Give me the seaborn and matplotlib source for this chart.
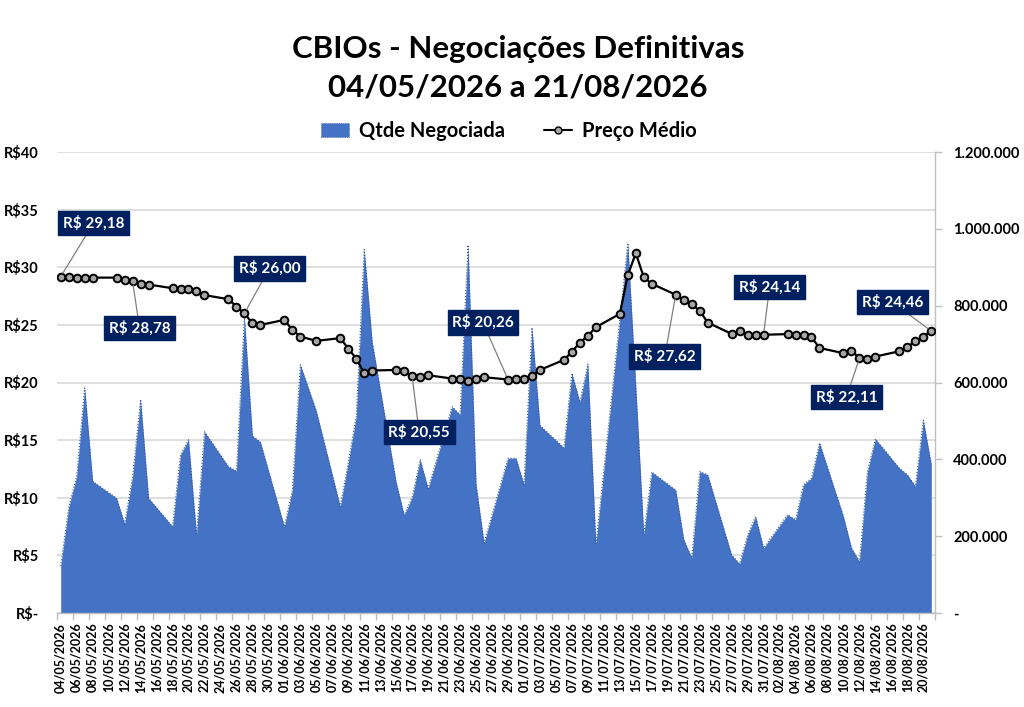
import pandas as pd
import matplotlib
matplotlib.use("Agg")
import matplotlib.pyplot as plt
from matplotlib.ticker import FuncFormatter, MultipleLocator, FixedLocator
from matplotlib.patches import Patch
from matplotlib.lines import Line2D
import seaborn as sns

# trading days (business days, Corpus Christi closed)
holidays = ["2026-06-04"]
trade_dates = pd.bdate_range("2026-05-04", "2026-08-21")
trade_dates = trade_dates[~trade_dates.isin(pd.to_datetime(holidays))]

# average price (R$)
preco_medio = [
    29.18, 29.12, 29.10, 29.10, 29.10,
    29.10, 28.92, 28.78, 28.56, 28.50,
    28.18, 28.07, 28.07, 27.92, 27.58,
    27.23, 26.59, 26.00, 25.14, 25.00,
    25.43, 24.57, 23.99, 23.61,
    23.85, 22.95, 22.08, 20.80, 21.04,
    21.09, 20.98, 20.55, 20.51, 20.63,
    20.34, 20.34, 20.11, 20.28, 20.46,
    20.26, 20.28, 20.34, 20.57, 21.09,
    21.96, 22.66, 23.47, 24.05, 24.80,
    25.95, 29.31, 31.22, 29.14, 28.56,
    27.62, 27.17, 26.77, 26.24, 25.20,
    24.22, 24.45, 24.10, 24.10, 24.14,
    24.20, 24.10, 24.16, 23.93, 23.00,
    22.54, 22.77, 22.11, 22.02, 22.25,
    22.71, 23.06, 23.58, 23.99, 24.46,
]

# traded quantity (CBIOs)
qtde_negociada = [
    122000, 275000, 356000, 586000, 343000,
    299000, 232000, 355000, 556000, 299000,
    225000, 412000, 451000, 203000, 472000,
    381000, 370000, 768000, 461000, 445000,
    225000, 320000, 646000, 526000,
    277000, 392000, 511000, 946000, 705000,
    340000, 255000, 301000, 399000, 324000,
    537000, 516000, 958000, 335000, 182000,
    403000, 403000, 334000, 743000, 488000,
    430000, 624000, 549000, 648000, 177000,
    763000, 963000, 590000, 203000, 367000,
    320000, 192000, 143000, 368000, 360000,
    151000, 128000, 203000, 251000, 169000,
    256000, 243000, 334000, 351000, 443000,
    251000, 169000, 134000, 369000, 453000,
    377000, 360000, 330000, 502000, 386000,
]

# highlighted prices (trade dates) and label offsets in pixels
destaques = ["2026-05-04", "2026-05-13", "2026-05-27", "2026-06-17", "2026-06-29",
             "2026-07-20", "2026-07-31", "2026-08-12", "2026-08-21"]
offsets = [(33, 54), (7, -47), (25, 45), (7, -56), (-25, 57),
           (-11, -62), (6, 48), (-13, -39), (-39, 29)]

tick_dates = pd.date_range("2026-05-04", "2026-08-20", freq="2D")

df = pd.DataFrame({"data": trade_dates, "preco": preco_medio, "qtde": qtde_negociada})
start = trade_dates[0]
df["dia"] = (df["data"] - start).dt.days

sns.set_theme(style="white")
plt.rcParams["font.family"] = ["Lato", "DejaVu Sans"]
plt.rcParams.update({"text.color": "black", "axes.labelcolor": "black",
                     "xtick.color": "black", "ytick.color": "black"})

W, H = 1024, 707
fig = plt.figure(figsize=(W / 100, H / 100), dpi=100)
ax_q = fig.add_axes([56.7 / W, (H - 613) / H, (935.3 - 56.7) / W, (613 - 152) / H])
ax_p = ax_q.twinx()

# area on the secondary (right) scale
ax_q.fill_between(df["dia"], df["qtde"], color="#4472C4", lw=0, zorder=2)
ax_q.plot(df["dia"], df["qtde"], color="#2F5597", lw=0.8, ls=":", zorder=3)
ax_q.set_ylim(0, 1200000)
ax_q.set_xlim(-0.5, df["dia"].max() + 0.5)
ax_q.yaxis.tick_right()
ax_q.yaxis.set_major_locator(MultipleLocator(200000))
ax_q.yaxis.set_minor_locator(MultipleLocator(150000))
ax_q.yaxis.remove_overlapping_locs = False
ax_q.yaxis.set_major_formatter(FuncFormatter(
    lambda v, _: "-" if v == 0 else f"{int(v):,}".replace(",", ".")))
ax_q.grid(True, axis="y", which="minor", color="#D9D9D9", lw=1.2, zorder=0)
ax_q.set_axisbelow(True)
ax_q.tick_params(axis="y", which="major", right=True, left=False, labelright=True,
                 labelleft=False, length=5, width=1, color="#BFBFBF", pad=8,
                 labelsize=10.5, labelcolor="black")
ax_q.tick_params(axis="y", which="minor", length=0)
for lab in ax_q.get_yticklabels():
    lab.set_fontweight("bold")

# x axis: labels every 2 days, tick marks between
tick_pos = [(d - start).days for d in tick_dates]
ax_q.xaxis.set_major_locator(FixedLocator(tick_pos))
ax_q.set_xticklabels([d.strftime("%d/%m/%Y") for d in tick_dates],
                     rotation=90, fontsize=9, fontweight="bold")
ax_q.xaxis.set_minor_locator(FixedLocator([p - 0.5 for p in tick_pos] + [tick_pos[-1] + 1.5]))
ax_q.tick_params(axis="x", which="major", length=0, pad=7)
ax_q.tick_params(axis="x", which="minor", bottom=True, length=5, width=1, color="#BFBFBF")
for side in ["left", "top"]:
    ax_q.spines[side].set_visible(False)
for side in ["right", "bottom"]:
    ax_q.spines[side].set_color("#BFBFBF")
    ax_q.spines[side].set_linewidth(1)

# price on the primary (left) scale
sns.lineplot(data=df, x="dia", y="preco", ax=ax_p, color="black", lw=1.6,
             marker="o", markersize=5.5, markerfacecolor="#A6A6A6",
             markeredgecolor="black", markeredgewidth=1.4, zorder=5)
ax_p.set_ylim(0, 40)
ax_p.set_xlim(ax_q.get_xlim())
ax_p.yaxis.tick_left()
ax_p.yaxis.set_major_locator(MultipleLocator(5))
ax_p.yaxis.set_major_formatter(FuncFormatter(
    lambda v, _: "R$-" if v == 0 else f"R${int(v)}"))
ax_p.tick_params(axis="y", left=True, right=False, length=0, pad=13,
                 labelsize=10.5, labelleft=True, labelright=False)
for lab in ax_p.get_yticklabels():
    lab.set_fontweight("bold")
ax_p.set_xlabel("")
ax_p.set_ylabel("")
ax_q.set_xlabel("")
ax_q.set_ylabel("")
for s in ax_p.spines.values():
    s.set_visible(False)

for dstr, (dx, dy) in zip(destaques, offsets):
    row = df[df["data"] == pd.Timestamp(dstr)].iloc[0]
    txt = f"R$ {row['preco']:.2f}".replace(".", ",")
    ax_p.annotate(txt, xy=(row["dia"], row["preco"]), xytext=(dx, dy),
                  textcoords="offset pixels", ha="center", va="center",
                  color="white", fontsize=11, fontweight="bold", zorder=6,
                  bbox=dict(boxstyle="square,pad=0.3", fc="#002060", ec="#002060"),
                  arrowprops=dict(arrowstyle="-", color="#7F7F7F", lw=0.9,
                                  shrinkA=0, shrinkB=3))

fig.text(0.506, 1 - 68 / H, "CBIOs - Negociações Definitivas\n04/05/2026 a 21/08/2026",
         ha="center", va="center", fontsize=22.5, fontweight="bold", linespacing=1.45)

handles = [
    Patch(facecolor="#4472C4", edgecolor="#2F5597", lw=0.5, linestyle=":"),
    Line2D([0], [0], color="black", lw=1.5, marker="o", markersize=5,
           markerfacecolor="#A6A6A6", markeredgecolor="black"),
]
fig.legend(handles, ["Qtde Negociada", "Preço Médio"], loc="center",
           bbox_to_anchor=(0.497, 1 - 131 / H), ncol=2, frameon=False,
           prop={"size": 14.5, "weight": "bold"}, handlelength=1.4,
           columnspacing=1.9, handletextpad=0.5)

fig.savefig("out.png", dpi=100)
